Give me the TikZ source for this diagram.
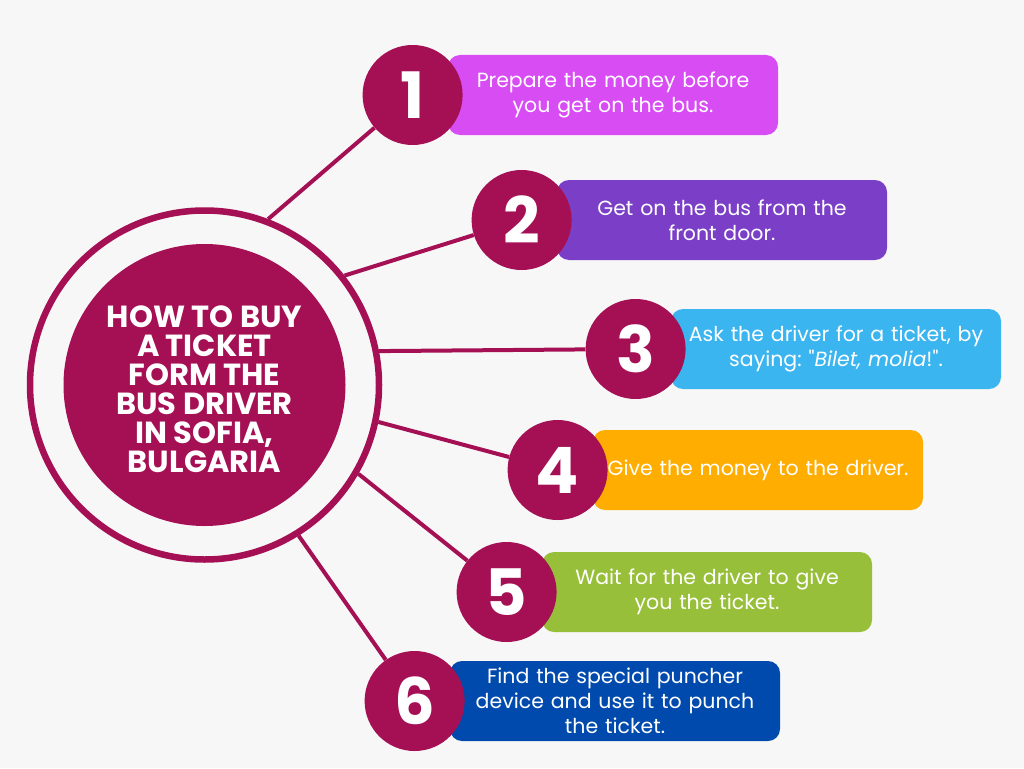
\documentclass[tikz,border=0pt]{standalone}
\usepackage{fontspec}
\setmainfont{Poppins}
\newfontfamily\headfont{Poppins}
\usetikzlibrary{positioning}
\frenchspacing

\definecolor{crimson}{HTML}{A51055}
\definecolor{paper}{HTML}{F7F7F7}
\definecolor{cardA}{HTML}{D84CF4}
\definecolor{cardB}{HTML}{7B3EC7}
\definecolor{cardC}{HTML}{3BB5EF}
\definecolor{cardD}{HTML}{FFAD00}
\definecolor{cardE}{HTML}{98BF3A}
\definecolor{cardF}{HTML}{004AAD}

\begin{document}
\begin{tikzpicture}[x=1pt, y=-1pt]

    \tikzstyle{card} = [rectangle, rounded corners=12pt, minimum width=330pt, minimum height=80pt, text width=322pt, align=center, text=white, font=\fontsize{20.5}{25}\selectfont]
    \tikzstyle{num} = [circle, fill=crimson, minimum size=100pt, inner sep=0pt, text=white, font=\headfont\bfseries\fontsize{64}{64}\selectfont]
    \tikzstyle{link} = [draw=crimson, line width=4pt]

    \fill[paper] (0,0) rectangle (1024,768);
    \useasboundingbox (0,0) rectangle (1024,768);

    % hub
    \node (ring) [circle, draw=crimson, line width=6.5pt, minimum size=349pt] at (204.5,385) {};
    \node (hub)  [circle, fill=crimson, inner sep=0pt, minimum size=282pt] at (ring.center) {};
    \node (title) [align=center, text=white, font=\headfont\bfseries\fontsize{30.5}{29}\selectfont] at ([yshift=-4pt]hub.center) {HOW TO BUY\\A TICKET\\FORM THE\\BUS DRIVER\\IN SOFIA,\\BULGARIA};

    % cards
    \node (b1) [card, fill=cardA] at (613,95)  {Prepare the money before\\you get on the bus.};
    \node (b2) [card, fill=cardB] at (722,220) {Get on the bus from the\\front door.};
    \node (b3) [card, fill=cardC] at (836,349) {Ask the driver for a ticket, by\\saying: \textquotedbl\textit{Bilet, molia}!\textquotedbl.};
    \node (b4) [card, fill=cardD] at (758,470) {Give the money to the driver.};
    \node (b5) [card, fill=cardE] at (707,592) {Wait for the driver to give\\you the ticket.};
    \node (b6) [card, fill=cardF] at (615,701) {Find the special puncher\\device and use it to punch\\the ticket.};

    % numbers
    \node (n1) [num, left=-15pt of b1] {1};
    \node (n2) [num, left=-15pt of b2] {2};
    \node (n3) [num, left=-15pt of b3] {3};
    \node (n4) [num, left=-15pt of b4] {4};
    \node (n5) [num, left=-15pt of b5] {5};
    \node (n6) [num, left=-15pt of b6] {6};

    \draw[link] (ring.69.4)  -- (n1);
    \draw[link] (ring.38.2)  -- (n2);
    \draw[link] (ring.11.2)  -- (n3);
    \draw[link] (ring.-12.2) -- (n4);
    \draw[link] (ring.-30.3) -- (n5);
    \draw[link] (ring.-58.3) -- (n6);
\end{tikzpicture}
\end{document}
